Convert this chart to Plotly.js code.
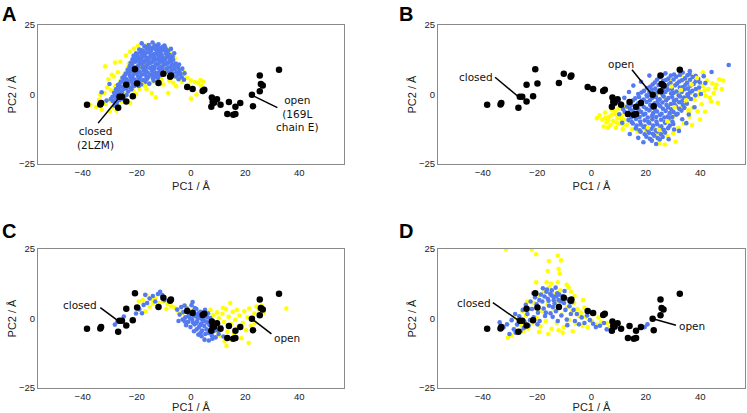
<!DOCTYPE html>
<html>
<head>
<meta charset="utf-8">
<script src="https://cdn.plot.ly/plotly-3.0.1.min.js"></script>
<style>html,body{margin:0;padding:0;background:#fff;}#chart{width:747px;height:413px;}</style>
</head>
<body>
<div id="chart"></div>
<script>
// ---- Crystal structures (black), identical in all four panels ----
const crystalPC1 = [-38.4,-33.5,-33.2,-26.9,-26.4,-25.5,-23.9,-21.5,-23.9,-20.7,-19.9,-12.0,-10.2,-7.7,-7.4,-1.4,0.6,4.3,4.9,7.7,9.6,8.5,8.0,7.5,10.9,14.0,18.2,16.4,13.4,15.6,16.4,22.5,22.9,25.4,25.8,26.5,25.4,32.5];
const crystalPC2 = [-3.7,-3.6,-3.1,-4.8,-0.8,-0.8,-2.5,-0.6,3.5,9.1,4.0,4.1,7.5,6.4,6.8,2.7,2.0,1.3,1.7,-1.1,-1.7,-3.0,-2.7,-4.4,-3.7,-2.7,-3.1,-4.4,-7.0,-7.3,-7.0,-0.1,-4.2,6.8,3.8,3.2,1.2,8.9];

// ---- Panel A ----
const aYellow = [[-35,-4.5],[-34,-2],[-33,-5.5],[-32,0.5],[-31,2.5],[-31.5,-3.5],[-30,-6],[-30.5,5.5],[-29.5,1.5],[-29,-4.5],[-28.5,6.5],[-28,3],[-27.5,-5.8],[-27,8],[-26.5,1],[-26,5],[-25.5,-2.5],[-24.5,7.5],[-24,0.5],[-23.5,9.5],[-22.5,-3],[-22,6.5],[-21.5,1.5],[-31.7,10.1],[-28,11.5],[-26.1,11.8],[-24,14],[-22.5,15.4],[-21,16.5],[-19.5,17.5],[-18,16],[-16.3,17.8],[-13.5,18],[-11,17],[-9,16.5],[-7.5,15],[-23,11],[-20.5,12],[-6,13],[-18,5],[-17,3],[-15.5,6.5],[-14,4.5],[-12.5,7],[-11,5.5],[-9.5,8.5],[-8,5],[-7,8],[-6,6.5],[-5,9.5],[-4,7.5],[-3.4,4.7],[-2.5,8],[-1.5,6],[-1,3.5],[0,5],[0.5,2.5],[1.5,4.5],[2.7,4.1],[3.5,5.2],[4.5,4.7],[3.8,3],[-14.5,0.5],[-13,-1],[-8.4,0.5],[-5.5,3],[-10.5,10.5],[-8,12],[-19,9.5],[-16.5,11],[-13,14.5],[-11.5,12.5],[-9.5,13.5],[2,0],[0,-1.5],[-21,-1],[-19,2],[-37.2,-3.7],[-33.5,-0.1],[-29.2,7.1],[-10.2,3.6],[-6.6,4.2],[-16.4,1.9],[-20.3,0.2],[-26.8,-4.1],[-29.8,-2.2]];
const aBlue = [[-17.2,17.3],[-15.6,17.8],[-14.1,16.9],[-12.4,17.4],[-11.2,16.6],[-9.6,16.9],[-19.1,16.2],[-17.6,15.6],[-16.2,16.4],[-14.7,15.8],[-13.1,16.3],[-11.4,15.5],[-10.2,16.0],[-8.4,15.7],[-20.3,14.8],[-18.7,15.2],[-17.1,14.6],[-15.4,15.1],[-14.0,14.4],[-12.6,15.0],[-10.9,14.5],[-9.3,14.9],[-7.9,14.2],[-21.2,13.9],[-19.6,13.5],[-18.1,14.1],[-16.4,13.3],[-15.0,13.8],[-13.6,13.2],[-12.1,13.9],[-10.5,13.4],[-9.0,13.7],[-7.4,13.1],[-21.6,12.7],[-20.1,12.2],[-18.4,12.8],[-17.0,12.1],[-15.6,12.6],[-14.1,12.0],[-12.4,12.7],[-11.0,12.2],[-9.6,12.5],[-8.0,11.9],[-6.6,12.4],[-22.3,11.4],[-20.6,11.8],[-19.0,11.1],[-17.5,11.6],[-16.1,10.9],[-14.5,11.5],[-13.0,10.8],[-11.6,11.4],[-10.1,10.7],[-8.5,11.3],[-7.0,10.6],[-5.6,11.1],[-22.6,10.2],[-21.0,9.7],[-19.5,10.3],[-18.0,9.6],[-16.6,10.1],[-15.1,9.5],[-13.5,10.0],[-12.0,9.4],[-10.6,9.9],[-9.1,9.3],[-7.5,9.8],[-6.1,9.2],[-4.8,9.6],[-23.4,8.8],[-22.0,8.3],[-20.4,8.9],[-18.9,8.1],[-17.4,8.6],[-16.0,7.9],[-14.4,8.5],[-12.9,7.8],[-11.5,8.4],[-9.9,7.6],[-8.3,8.2],[-5.4,8.0],[-3.9,7.4],[-24.1,7.5],[-22.6,6.9],[-21.1,7.4],[-19.6,6.7],[-18.0,7.2],[-16.5,6.5],[-15.0,7.1],[-13.2,6.4],[-11.1,6.9],[-5.7,6.5],[-3.4,6.2],[-2.6,5.3],[-25.3,6.0],[-23.8,5.5],[-22.3,6.1],[-20.8,5.4],[-19.3,5.9],[-17.6,5.2],[-16.2,5.7],[-13.8,5.0],[-4.6,5.5],[-25.9,4.6],[-24.5,4.0],[-23.0,4.7],[-21.6,3.9],[-20.1,4.4],[-18.4,3.6],[-15.4,3.9],[-27.0,3.4],[-25.6,2.8],[-24.1,3.3],[-22.5,2.5],[-21.2,3.0],[-27.7,1.9],[-26.3,1.4],[-24.8,2.0],[-23.2,1.1],[-28.4,0.6],[-27.0,0.2],[-25.5,0.8],[-23.8,-0.2],[-29.0,-0.8],[-27.6,-1.4],[-25.1,-1.6],[-28.8,-2.4],[-27.4,-3.1],[-28.2,-4.0],[-31.2,-2.2],[-33.0,0.8],[-30.1,3.8],[-18.2,18.4],[-14.2,18.7],[-12.0,18.1],[-9.8,17.6],[-7.4,16.4],[-6.2,14.8],[-4.4,10.8],[-3.2,9.3],[-2.4,7.6],
  [-16.4,17.0],[-13.3,17.6],[-10.4,17.2],[-18.3,15.9],[-15.2,16.6],[-12.0,16.0],[-9.2,16.2],[-19.8,14.4],[-16.7,14.9],[-13.4,14.6],[-11.6,14.9],[-8.5,14.5],[-20.7,13.2],[-17.5,13.7],[-14.3,13.5],[-11.3,13.1],[-8.2,13.3],[-6.8,13.6],[-21.3,12.0],[-18.9,12.4],[-16.3,12.2],[-13.3,12.3],[-10.3,12.0],[-7.3,12.0],[-21.7,11.0],[-18.2,11.1],[-15.3,11.2],[-12.3,11.0],[-9.3,11.0],[-6.3,10.8],[-22.0,10.0],[-20.2,9.8],[-17.3,10.0],[-14.3,9.9],[-11.3,9.8],[-8.3,9.7],[-5.4,10.2],[-22.8,9.3],[-19.7,9.2],[-16.7,9.0],[-13.7,9.1],[-10.7,9.0],[-7.1,8.8],[-4.3,8.4],[-23.0,7.9],[-20.0,7.7],[-17.0,7.6],[-14.0,7.4],[-12.1,7.3],[-10.5,8.0],[-6.8,7.5],[-4.6,7.1],[-24.6,6.6],[-21.6,6.3],[-18.8,6.3],[-15.8,6.3],[-14.1,5.9],[-12.2,5.9],[-24.9,5.1],[-22.0,5.0],[-19.0,4.9],[-16.8,4.6],[-26.4,3.8],[-23.4,3.6],[-20.8,3.2],[-19.3,3.1],[-26.9,2.4],[-23.9,2.3],[-22.0,1.9],[-27.8,1.0],[-26.1,0.0],[-24.7,-0.8],[-28.0,-0.4],[-26.4,-2.0],[-29.6,-1.6]];

// ---- Panel B ----
const bYellow = [[3,-7.5],[4,-9],[5,-6.5],[5.5,-10],[6.5,-8],[7,-11],[7.5,-5.5],[8,-9.5],[8.5,-7],[9,-12],[9.5,-8.5],[10,-5],[10.5,-10.5],[11,-7.5],[11.5,-12.5],[12,-9],[12.5,-4.5],[13,-11],[13.5,-7],[14,-9.5],[15,-12.5],[8,-4],[6,-12],[4.5,-11.5],[2,-8.5],[6.1,-9.3],[7.6,-7.2],[9.2,-10.1],[10.8,-8.8],[12.4,-6.6],[8.7,-5.9],[11.7,-10.9],[5.1,-8.4],[28,-4],[30,-2],[31,-7],[32,0],[33,-5],[34,2],[35,-3],[36,-8],[36.5,0.5],[37.5,4],[38,-2],[39,-6],[39.5,1.5],[40.5,-3.5],[41,3],[42,-0.5],[42.5,5],[43,2],[44,-2.5],[44.5,4],[45,0.5],[46,3.5],[46.5,-3],[47,5.5],[48,2],[48.5,5],[40,-9],[37,-11],[34,-10.5],[30,-8],[26,3],[29,5],[33,7],[35,5.5],[38,7],[41,8],[20,-13],[22,-16],[24,-14.5],[25,-17.5],[26,-13],[27,-18],[28,-15],[30,-14],[31,-17],[32,-12],[23,-12],[19,-11],[17,-13.5],[21,-9],[25,-7],[27,-2],[24,0],[22,-4],[18,-6],[39.2,-0.3],[41.6,1.4],[43.6,-1.2],[37.2,-4.8],[41.8,-6.2],[35.8,-6.1],[45.6,2.2]];
const bBlue = [[27.2,7.6],[30.4,7.2],[33.6,7.9],[36.1,7.4],[25.1,6.2],[28.3,5.7],[31.2,6.4],[34.4,5.8],[37.2,6.3],[39.3,5.6],[23.3,4.3],[26.4,4.9],[29.1,4.1],[32.3,4.7],[35.2,4.2],[38.4,4.8],[21.6,2.8],[24.7,3.4],[27.6,2.6],[30.8,3.3],[33.7,2.7],[36.4,3.2],[39.6,2.5],[19.3,1.3],[22.2,1.8],[25.4,1.2],[28.1,1.7],[31.3,1.1],[34.2,1.9],[37.1,1.3],[17.2,0.2],[20.3,-0.3],[23.1,0.3],[26.2,-0.2],[29.3,0.4],[32.1,-0.4],[35.3,0.1],[38.2,-0.3],[16.1,-1.4],[19.2,-1.8],[22.4,-1.2],[25.1,-1.7],[28.3,-1.3],[31.2,-1.9],[34.1,-1.1],[36.6,-1.6],[14.2,-2.8],[17.1,-3.3],[20.3,-2.7],[23.2,-3.2],[26.1,-2.9],[29.2,-3.4],[32.3,-2.8],[35.1,-3.3],[13.1,-4.3],[16.3,-4.8],[19.2,-4.4],[22.1,-4.9],[25.3,-4.2],[28.2,-4.7],[31.1,-4.3],[34.2,-4.8],[12.2,-6.2],[15.1,-5.8],[18.3,-6.3],[21.2,-5.7],[24.1,-6.1],[27.3,-5.9],[30.2,-6.3],[33.1,-5.8],[13.3,-7.4],[16.2,-7.8],[19.1,-7.3],[22.3,-7.7],[25.2,-7.4],[28.1,-7.9],[31.2,-7.3],[13.6,-9.2],[16.4,-8.8],[19.6,-9.3],[22.4,-8.9],[25.6,-9.1],[28.4,-8.7],[15.2,-10.4],[18.1,-10.8],[21.3,-10.3],[24.2,-10.7],[27.1,-10.2],[30.1,-10.6],[16.3,-12.2],[19.2,-11.8],[22.1,-12.3],[25.3,-11.9],[28.2,-12.1],[18.1,-13.4],[21.2,-13.8],[24.3,-13.3],[27.1,-13.7],[20.2,-15.2],[23.1,-14.8],[26.2,-15.3],[22.2,-16.6],[25.1,-16.2],[50.5,10.6],[44.2,8.1],[41.3,6.6],[10.2,-7.1],[11.3,-10.2],[14.1,-14.2],[17.2,-15.6],[28.4,-16.1],[15.4,3.2],[18.2,4.6],[21.3,6.8],[36.2,8.4],
  [26.0,6.9],[29.2,6.8],[32.5,7.0],[35.3,6.9],[38.4,6.6],[24.1,5.3],[27.4,5.2],[30.2,5.4],[33.3,5.1],[36.3,5.3],[39.9,4.3],[22.5,3.6],[25.6,4.0],[28.5,3.7],[31.5,3.9],[34.6,3.5],[37.6,3.8],[20.4,2.3],[23.5,2.1],[26.6,2.4],[29.6,2.0],[32.5,2.5],[35.5,2.1],[38.4,2.0],[18.4,0.7],[21.3,0.9],[24.2,0.7],[27.2,0.9],[30.3,0.6],[33.2,0.9],[36.2,0.7],[17.5,-0.9],[20.6,-0.7],[23.7,-0.9],[26.6,-0.7],[29.7,-0.9],[32.6,-0.7],[35.6,-0.8],[15.3,-2.1],[18.5,-2.3],[21.5,-2.1],[24.4,-2.3],[27.5,-2.1],[30.4,-2.3],[33.5,-2.2],[14.6,-3.8],[17.6,-3.6],[21.6,-3.8],[24.6,-3.6],[27.6,-3.8],[30.6,-3.6],[33.6,-3.7],[14.1,-5.1],[17.3,-5.3],[20.2,-5.1],[23.4,-5.3],[26.3,-5.1],[29.4,-5.3],[32.3,-5.1],[13.6,-6.9],[16.8,-6.7],[19.8,-6.9],[22.7,-6.7],[25.8,-6.9],[28.8,-6.7],[31.7,-6.9],[14.7,-8.3],[17.7,-8.1],[20.7,-8.3],[23.8,-8.1],[26.8,-8.3],[29.7,-8.1],[14.8,-9.9],[17.9,-9.7],[20.9,-9.9],[23.9,-9.7],[27.0,-9.9],[29.8,-9.7],[16.6,-11.2],[19.7,-11.4],[22.7,-11.2],[25.7,-11.4],[28.8,-11.2],[17.7,-12.9],[20.6,-12.7],[23.7,-12.9],[26.6,-12.7],[19.6,-14.3],[22.6,-14.1],[25.6,-14.3],[21.5,-15.9],[24.4,-15.7],
  [12.1,-1.2],[13.8,0.9],[10.4,-3.1],[33.4,-8.9],[35.8,-7.2],[32.2,-13.1],[19.1,-17.2],[30.4,-12.6],[41.9,4.1],[40.3,0.2],[37.9,-4.6],[11.6,-5.2],[34.9,-10.3],[23.8,-17.8]];
// yellow points scattered on top of the blue cloud in panel B
const bYellowTop = [[30.6,-4.6],[34.8,-2.1],[36.8,3.6],[32.9,1.6],[27.9,-9.6],[24.8,-12.7],[38.8,5.9],[29.4,2.9],[20.8,-11.9],[35.6,-5.6]];

// ---- Panel C ----
const cYellow = [[-17.8,6.6],[-16.4,8.3],[-14.8,6.9],[-13.1,7.3],[-11.9,5.6],[-10.2,6.2],[-8.6,5.1],[-7.3,4.4],[-6.1,3.9],[-4.9,2.8],[-3.4,2.1],[-15.2,4.2],[-16.9,2.6],[-12.5,4.1],[-9.1,3.5],[-2.2,4.6],[-1.1,3.3],[0.4,2.9],[-19.3,6.2],[-14.1,5.5],[7.2,3.1],[8.1,1.2],[8.8,-2.4],[9.6,2.2],[10.3,0.1],[11.0,-3.6],[11.6,1.7],[12.2,-1.3],[12.9,3.4],[13.4,-4.8],[13.9,0.6],[14.5,5.6],[14.8,-2.1],[15.4,2.4],[15.9,-5.6],[16.3,-0.5],[16.9,3.1],[17.4,-3.3],[17.9,1.1],[18.6,-7.1],[19.2,-1.6],[19.7,2.6],[20.3,-4.2],[20.9,0.4],[21.5,3.6],[22.1,-2.6],[13.1,-9.9],[21.3,-8.8],[23.4,1.8],[24.2,4.3],[25.1,3.2],[26.1,4.6],[26.8,2.1],[35.2,3.6],[23.6,-1.5],[10.7,-6.2],[12.4,-8.1],[15.1,-7.6],[9.2,-4.4],[11.8,3.8]];
const cBlue = [[-28.1,-2.2],[-27.2,-1.1],[-24.8,0.7],[-20.3,1.8],[-18.1,1.9],[-17.5,4.9],[-16.9,8.5],[-15.3,7.2],[-14.1,8.1],[-12.2,8.8],[-11.4,9.6],[-10.6,8.4],[-13.2,6.1],[-9.8,6.6],[-16.2,5.6],[-19.1,3.3],[-5.1,3.2],[-4.2,1.4],[-3.6,4.1],[-2.8,2.3],[-2.1,0.4],[-1.5,3.6],[-1.0,-1.2],[-0.6,1.8],[0.2,4.8],[0.4,-0.3],[0.9,2.6],[1.3,-2.1],[1.6,0.9],[2.0,3.4],[2.3,-0.9],[2.6,1.7],[2.9,-3.2],[3.3,0.3],[3.5,2.4],[3.8,-1.8],[4.1,-4.3],[4.3,1.2],[4.6,-0.6],[4.9,-2.7],[5.2,3.1],[5.4,0.8],[5.7,-3.9],[6.0,-1.4],[6.3,1.9],[6.5,-5.2],[6.8,-2.3],[7.1,0.2],[7.4,-3.6],[7.7,-6.1],[8.0,-1.1],[8.3,-4.6],[8.7,-2.8],[9.1,-6.8],[9.6,-4.1],[10.2,-5.6],[-1.8,-2.4],[-0.2,-3.1],[1.1,-4.6],[2.7,-5.8],[3.9,-6.4],[5.0,-7.6],[0.6,5.9],[-3.1,-0.4],[1.9,-1.6],[3.0,2.0],[4.0,-0.2],[5.1,-1.0],[6.1,0.4],[3.4,-2.4],[2.2,0.6],[1.0,1.2],[-0.4,0.2],[-2.4,4.7],[-4.6,-0.9],[7.9,-7.3],[6.6,-7.9],[11.1,-3.2],[12.0,-6.5],[9.4,-1.6],[-0.9,0.9],[0.7,-1.4],[2.1,-3.9],[3.6,-5.1],[5.3,-5.6],[6.9,-4.4],[4.5,2.1],[-2.3,-1.1],[1.4,3.8],[7.6,-0.6]];

// ---- Panel D ----
const dYellow = [[-31.5,25.0],[-22.0,25.0],[-20.4,23.1],[-12.4,22.6],[-15.7,20.7],[-11.2,20.9],[-12.1,17.8],[-16.1,17.1],[-11.7,16.2],[-20.4,13.0],[-16.5,13.0],[-14.9,12.6],[-12.4,13.0],[-8.4,11.1],[-30.8,-6.9],[-29.6,-6.1],[-28.4,-3.8],[-27.1,-5.2],[-25.9,-2.4],[-25.2,-4.6],[-24.1,1.2],[-23.3,-3.6],[-22.6,3.3],[-21.8,-1.6],[-21.1,5.6],[-20.2,0.4],[-19.6,8.1],[-18.8,-2.9],[-18.1,2.6],[-17.4,9.6],[-16.8,-0.9],[-16.2,5.1],[-15.5,11.2],[-14.7,-3.7],[-14.1,3.6],[-13.5,8.6],[-12.8,-1.6],[-12.2,6.2],[-11.5,10.1],[-10.9,1.4],[-10.2,-3.1],[-9.6,7.1],[-8.9,4.1],[-8.3,-0.6],[-7.6,9.6],[-7.1,2.6],[-6.4,5.6],[-5.8,-1.9],[-5.2,3.4],[-4.6,0.9],[-3.9,2.1],[-3.3,-2.6],[-2.6,3.9],[-2.0,0.6],[-1.4,-3.1],[-0.8,2.1],[0.1,-0.8],[0.9,1.6],[1.8,-2.2],[2.6,0.4],[3.5,-1.4],[4.3,1.1],[5.6,-1.6],[6.8,-2.9],[-23.6,6.1],[-26.8,-0.3],[-19.3,-4.9],[-15.9,-5.6],[-10.6,-5.1],[-12.1,-4.2],[-6.9,-4.6],[-25.4,2.6],[-28.9,0.2],[-9.1,12.1],[-6.2,8.1],[-3.1,6.6]];
const dBlue = [[-33.8,-1.4],[-32.4,-3.2],[-31.1,-2.1],[-30.2,-5.6],[-29.4,-0.6],[-28.6,-3.9],[-28.1,1.6],[-27.4,-2.2],[-26.6,0.8],[-26.1,-4.4],[-25.3,3.1],[-24.7,-1.1],[-24.2,4.9],[-23.6,1.6],[-23.1,-2.6],[-22.4,6.1],[-21.9,3.4],[-21.3,0.4],[-20.8,7.6],[-20.2,5.1],[-19.7,2.1],[-19.1,-0.9],[-18.6,8.6],[-18.1,6.1],[-17.6,3.6],[-17.1,0.9],[-16.6,9.6],[-16.1,7.1],[-15.6,4.6],[-15.1,1.9],[-14.6,10.1],[-14.1,7.9],[-13.6,5.4],[-13.1,2.6],[-12.6,9.1],[-12.1,6.6],[-11.6,4.1],[-11.1,1.1],[-10.6,8.1],[-10.1,5.6],[-9.6,3.1],[-9.1,-0.4],[-8.6,6.9],[-8.1,4.4],[-7.6,1.6],[-7.1,5.9],[-6.6,3.1],[-6.1,-0.9],[-5.4,1.6],[-4.6,-2.1],[-3.6,0.4],[-2.6,-1.6],[-1.6,1.1],[-0.6,-0.6],[0.6,-1.9],[1.6,-3.1],[3.1,-2.6],[4.6,-1.6],[5.6,-3.9],[7.1,-4.4],[19.6,-3.1],[20.6,-2.1],[-17.9,10.9],[-15.2,8.9],[-13.2,11.1],[-11.9,8.6],[-9.9,9.9],[-21.4,9.1],[-16.8,2.1],[-14.3,0.6],[-19.9,-2.1],[-24.9,-3.4],[-27.9,-5.1],[-22.6,-0.6],[-12.4,-0.9],[-8.9,-2.4],[-17.3,7.9],[-15.8,6.4],[-14.8,8.4],[-13.9,6.6],[-12.9,7.9],[-11.3,6.1],[-19.2,6.6],[-16.4,10.4],[-14.2,4.1]];

const xTicks = [-40, -20, 0, 20, 40];
const yTicks = [-25, 0, 25];

// ---- styling ----
const YEL = '#ffff00', BLU = 'rgb(84,122,240)', BLK = '#000000';
const panels = [
  {yel: aYellow, blu: aBlue, top: [], xa: 'x',  ya: 'y'},
  {yel: bYellow, blu: bBlue, top: bYellowTop, xa: 'x2', ya: 'y2'},
  {yel: cYellow, blu: cBlue, top: [], xa: 'x3', ya: 'y3'},
  {yel: dYellow, blu: dBlue, top: [], xa: 'x4', ya: 'y4'}
];
const traces = [];
panels.forEach(p => {
  traces.push({type:'scatter', mode:'markers', x:p.yel.map(d=>d[0]), y:p.yel.map(d=>d[1]), xaxis:p.xa, yaxis:p.ya,
    marker:{color:YEL, size:4.6}, hoverinfo:'skip'});
  traces.push({type:'scatter', mode:'markers', x:p.blu.map(d=>d[0]), y:p.blu.map(d=>d[1]), xaxis:p.xa, yaxis:p.ya,
    marker:{color:BLU, size:4.6}, hoverinfo:'skip'});
  if (p.top.length) traces.push({type:'scatter', mode:'markers', x:p.top.map(d=>d[0]), y:p.top.map(d=>d[1]), xaxis:p.xa, yaxis:p.ya,
    marker:{color:YEL, size:4.6}, hoverinfo:'skip'});
  traces.push({type:'scatter', mode:'markers', x:crystalPC1, y:crystalPC2, xaxis:p.xa, yaxis:p.ya,
    marker:{color:BLK, size:6.5}, hoverinfo:'skip'});
});

const W = 747, H = 413;
const dxL = [38/W, 344/W], dxR = [438/W, 745/W];
const dyT = [1-164/H, 1-25/H], dyB = [1-388/H, 1-249/H];
const tickF = {family:'Liberation Sans, Arial, sans-serif', size:9.5, color:'#222'};
const titleF = {family:'Liberation Sans, Arial, sans-serif', size:11, color:'#222'};
function xax(dom, anchor){
  return {domain:dom, anchor:anchor, range:[-56.5,56.5], tickvals:xTicks, ticks:'', showgrid:false, zeroline:false,
    showline:true, mirror:true, linecolor:'#8a8a8a', linewidth:1, automargin:false, tickfont:tickF,
    title:{text:'PC1 / Å', font:titleF, standoff:4}};
}
function yax(dom, anchor){
  return {domain:dom, anchor:anchor, range:[-25,25], tickvals:yTicks, ticks:'', showgrid:false, zeroline:false,
    showline:true, mirror:true, linecolor:'#8a8a8a', linewidth:1, automargin:false, tickfont:tickF,
    title:{text:'PC2 / Å', font:titleF, standoff:0}};
}

const lblFont = {family:'DejaVu Sans, sans-serif', size:10.5, color:'#111'};
const panelFont = {family:'Liberation Sans, Arial, sans-serif', size:20, color:'#000'};
function txt(t, x, y, xr, yr){ return {text:t, x:x, y:y, xref:xr, yref:yr, showarrow:false, font:lblFont, xanchor:'center', yanchor:'middle', align:'center'}; }
function pl(t, px, py){ return {text:'<b>'+t+'</b>', x:px/W, y:1-py/H, xref:'paper', yref:'paper', showarrow:false, font:panelFont, xanchor:'left', yanchor:'top'}; }

const annotations = [
  pl('A', 0, 1), pl('B', 397, 1), pl('C', 0, 218), pl('D', 397, 218),
  txt('closed<br>(2LZM)', -35.2, -15.8, 'x', 'y'),
  txt('open<br>(169L<br>chain E)', 39.4, -6.8, 'x', 'y'),
  txt('closed', -42.5, 6.2, 'x2', 'y2'),
  txt('open', 10.8, 11.0, 'x2', 'y2'),
  txt('closed', -40.9, 4.7, 'x3', 'y3'),
  txt('open', 35.4, -6.9, 'x3', 'y3'),
  txt('closed', -43.3, 5.7, 'x4', 'y4'),
  txt('open', 36.9, -2.7, 'x4', 'y4')
];
function ln(x0,y0,x1,y1,xr,yr){ return {type:'line', x0:x0, y0:y0, x1:x1, y1:y1, xref:xr, yref:yr, line:{color:'#000', width:1.5}}; }
const shapes = [
  ln(-34.3,-10.3,-26.6,-1.2,'x','y'),
  ln(23.2,-0.6,31.9,-4.7,'x','y'),
  ln(-35.5,6.2,-26.8,-0.9,'x2','y2'),
  ln(14.9,8.9,22.3,-0.1,'x2','y2'),
  ln(-33.5,3.9,-27.0,-0.8,'x3','y3'),
  ln(29.7,-5.5,22.6,-0.2,'x3','y3'),
  ln(-36.3,5.7,-26.9,-0.7,'x4','y4'),
  ln(31.1,-2.4,22.6,-0.1,'x4','y4')
];

const layout = {
  width: W, height: H, margin:{l:0,r:0,t:0,b:0}, paper_bgcolor:'#fff', plot_bgcolor:'#fff', showlegend:false,
  xaxis: xax(dxL,'y'), yaxis: yax(dyT,'x'),
  xaxis2: xax(dxR,'y2'), yaxis2: yax(dyT,'x2'),
  xaxis3: xax(dxL,'y3'), yaxis3: yax(dyB,'x3'),
  xaxis4: xax(dxR,'y4'), yaxis4: yax(dyB,'x4'),
  annotations: annotations, shapes: shapes
};
Plotly.newPlot('chart', traces, layout, {staticPlot:true, displayModeBar:false});
</script>
</body>
</html>
